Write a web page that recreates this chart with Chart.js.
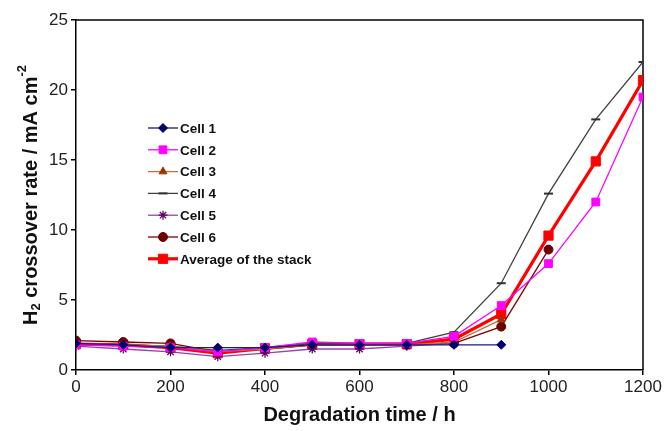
<!DOCTYPE html>
<html>
<head>
<meta charset="utf-8">
<script src="https://cdn.jsdelivr.net/npm/chart.js@4/dist/chart.umd.min.js"></script>
<style>
  html, body { margin: 0; padding: 0; background: #fff; }
  #wrap { width: 666px; height: 431px; }
</style>
</head>
<body>
<div id="wrap"><canvas id="chart"></canvas></div>
<script>
// degradation time (h)
var hours = [0, 100, 200, 300, 400, 500, 600, 700, 800, 900, 1000, 1100, 1200];

// H2 crossover rate, mA cm-2
var cell1 = [1.9, 1.8, 1.6, 1.6, 1.6, 1.8, 1.8, 1.8, 1.8, 1.8];
var cell2 = [1.8, 1.7, 1.6, 1.3, 1.6, 2.0, 1.9, 1.9, 2.4, 4.6, 7.6, 12.0, 19.5];
var cell3 = [1.9, 1.8, 1.7, 1.3, 1.5, 1.8, 1.8, 1.8, 2.0, 3.6];
var cell4 = [1.9, 1.8, 1.7, 1.4, 1.6, 1.9, 1.9, 1.9, 2.7, 6.2, 12.6, 17.9, 22.0];
var cell5 = [1.7, 1.5, 1.3, 0.95, 1.2, 1.5, 1.5, 1.7, 1.9];
var cell6 = [2.1, 2.0, 1.9, 1.3, 1.5, 1.8, 1.8, 1.8, 1.9, 3.1, 8.6];
var average = [1.85, 1.8, 1.6, 1.2, 1.55, 1.85, 1.85, 1.85, 2.2, 4.0, 9.6, 14.9, 20.7];

var seriesNames = ["Cell 1", "Cell 2", "Cell 3", "Cell 4", "Cell 5", "Cell 6", "Average of the stack"];

function pts(arr) {
    var out = [];
    for (let i = 0; i < arr.length; i++) out.push({ x: hours[i], y: arr[i] });
    return out;
}

var datasets = [
    { label: seriesNames[0], data: pts(cell1), borderColor: '#1a1a8c', backgroundColor: '#00006e', pointStyle: 'rectRot', pointRadius: 4.5, borderWidth: 1.3 },
    { label: seriesNames[1], data: pts(cell2), borderColor: '#ff00ff', backgroundColor: '#ff00ff', pointStyle: 'rect', pointRadius: 5.5, borderWidth: 1.3 },
    { label: seriesNames[2], data: pts(cell3), borderColor: '#c8703c', backgroundColor: '#993300', pointStyle: 'triangle', pointRadius: 4.5, borderWidth: 1.3 },
    { label: seriesNames[3], data: pts(cell4), borderColor: '#404040', backgroundColor: '#303030', pointStyle: 'line', pointRadius: 4.5, borderWidth: 1.3, pointBorderWidth: 2 },
    { label: seriesNames[4], data: pts(cell5), borderColor: '#9b3fb0', backgroundColor: '#660066', pointStyle: 'star', pointRadius: 4.5, borderWidth: 1.3, pointBorderWidth: 1.3 },
    { label: seriesNames[5], data: pts(cell6), borderColor: '#800000', backgroundColor: '#6b0000', pointStyle: 'circle', pointRadius: 4.5, borderWidth: 1.3 },
    { label: seriesNames[6], data: pts(average), borderColor: '#ff0000', backgroundColor: '#ff0000', pointStyle: 'rect', pointRadius: 6.5, borderWidth: 3.2 }
];
datasets.forEach(function (d) {
    d.pointBorderColor = d.backgroundColor;
    d.pointBackgroundColor = d.backgroundColor;
    if (d.pointBorderWidth === undefined) d.pointBorderWidth = 1;
    d.fill = false;
    d.tension = 0;
});

// box around the plot area (top and right sides)
var framePlugin = {
    id: 'frame',
    beforeDatasetsDraw: function (chart) {
        var a = chart.chartArea, ctx = chart.ctx;
        ctx.save();
        ctx.strokeStyle = '#000';
        ctx.lineWidth = 1.5;
        ctx.beginPath();
        ctx.moveTo(a.left, a.top);
        ctx.lineTo(a.right, a.top);
        ctx.lineTo(a.right, a.bottom);
        ctx.stroke();
        ctx.restore();
    }
};

// legend drawn inside the plot
var legendPlugin = {
    id: 'insideLegend',
    afterDraw: function (chart) {
        var ctx = chart.ctx;
        var x0 = 148, y0 = 128, step = 21.8;
        ctx.save();
        chart.data.datasets.forEach(function (d, i) {
            var y = y0 + i * step;
            ctx.strokeStyle = d.borderColor;
            ctx.lineWidth = d.borderWidth;
            ctx.beginPath();
            ctx.moveTo(x0, y);
            ctx.lineTo(x0 + 30, y);
            ctx.stroke();
            ctx.fillStyle = d.pointBackgroundColor;
            ctx.strokeStyle = d.pointBorderColor;
            ctx.lineWidth = d.pointBorderWidth;
            Chart.helpers.drawPoint(ctx, { pointStyle: d.pointStyle, radius: d.pointRadius, rotation: 0, borderWidth: d.pointBorderWidth }, x0 + 15, y);
            ctx.fillStyle = '#111';
            ctx.font = 'bold 13.5px "Liberation Sans", Arial, sans-serif';
            ctx.textBaseline = 'middle';
            ctx.textAlign = 'left';
            ctx.fillText(d.label, x0 + 32, y + 1);
        });
        ctx.restore();
    }
};

// y axis title with sub/superscripts
var yTitlePlugin = {
    id: 'yTitle',
    afterDraw: function (chart) {
        var ctx = chart.ctx, a = chart.chartArea;
        var big = 'bold 20px "Liberation Sans", Arial, sans-serif';
        var small = 'bold 13px "Liberation Sans", Arial, sans-serif';
        var parts = [
            { t: 'H', f: big, dy: 0 },
            { t: '2', f: small, dy: 5 },
            { t: ' crossover rate / mA cm', f: big, dy: 0 },
            { t: '-2', f: small, dy: -9 }
        ];
        ctx.save();
        var total = 0;
        parts.forEach(function (p) { ctx.font = p.f; p.w = ctx.measureText(p.t).width; total += p.w; });
        ctx.translate(31, (a.top + a.bottom) / 2);
        ctx.rotate(-Math.PI / 2);
        ctx.fillStyle = '#111';
        ctx.textBaseline = 'middle';
        ctx.textAlign = 'left';
        var x = -total / 2;
        parts.forEach(function (p) {
            ctx.font = p.f;
            ctx.fillText(p.t, x, p.dy);
            x += p.w;
        });
        ctx.restore();
    }
};

var tickFont = { family: '"Liberation Sans", Arial, sans-serif', size: 17 };

new Chart(document.getElementById('chart'), {
    type: 'line',
    data: { datasets: datasets },
    options: {
        responsive: true,
        maintainAspectRatio: false,
        animation: false,
        layout: { padding: { top: 20, right: 23, left: 0, bottom: 0 } },
        plugins: { legend: { display: false }, tooltip: { enabled: false } },
        scales: {
            x: {
                type: 'linear',
                min: 0, max: 1200,
                ticks: { stepSize: 200, color: '#222', font: tickFont, padding: 2, maxRotation: 0,
                         callback: function (v) { return String(v); } },
                grid: { drawOnChartArea: false, drawTicks: true, tickLength: 5, color: '#000', lineWidth: 1.5 },
                border: { display: true, color: '#000', width: 1.5 },
                title: { display: true, text: 'Degradation time / h', color: '#111', font: { family: '"Liberation Sans", Arial, sans-serif', size: 20, weight: 'bold' }, padding: { top: 4 } },
                afterFit: function (s) { s.height = 61; }
            },
            y: {
                min: 0, max: 25,
                ticks: { stepSize: 5, color: '#222', font: tickFont, padding: 3 },
                grid: { drawOnChartArea: false, drawTicks: true, tickLength: 5, color: '#000', lineWidth: 1.5 },
                border: { display: true, color: '#000', width: 1.5 },
                afterFit: function (s) { s.width = 76; }
            }
        }
    },
    plugins: [framePlugin, legendPlugin, yTitlePlugin]
});
</script>
</body>
</html>
